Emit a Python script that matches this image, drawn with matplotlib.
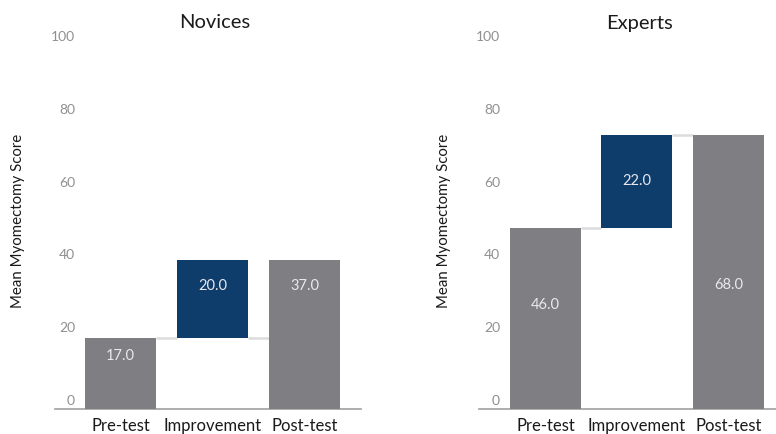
import matplotlib
matplotlib.use("Agg")
import matplotlib.pyplot as plt

plt.rcParams['font.family'] = ['Lato', 'DejaVu Sans']

categories = ["Pre-test", "Improvement", "Post-test"]
panels = ["Novices", "Experts"]
# bar tops
novice_tops = [17.0, 38.4, 38.4]
expert_tops = [47.2, 72.9, 72.9]
# printed values
novice_labels = ["17.0", "20.0", "37.0"]
expert_labels = ["46.0", "22.0", "68.0"]
yticks = [0, 20, 40, 60, 80, 100]

# layout (not data)
label_y = {"Novices": [12.2, 31.4, 31.4], "Experts": [26.2, 60.2, 31.7]}
connect_at = {"Novices": ["pre", "pre"], "Experts": ["pre", "post"]}

GRAY = "#7f7e83"
BLUE = "#0f3d6b"
BASE = -2.3

fig = plt.figure(figsize=(7.76, 4.34), dpi=100)
W, H = 776, 434
ax_specs = {
    "Novices": dict(rect=[55 / W, (H - 408.5) / H, (361 - 55) / W, (408.5 - 36) / H],
                    xlim=(-0.71, 2.61), width=0.77, pad=-14.4,
                    title_xy=(215 / W, 1 - 23 / H), ylab_x=18 / W),
    "Experts": dict(rect=[479 / W, (H - 408.5) / H, (776 - 479) / W, (408.5 - 36) / H],
                    xlim=(-0.727, 2.52), width=0.776, pad=-15.1,
                    title_xy=(640 / W, 1 - 24 / H), ylab_x=444 / W),
}

for name, tops, labels in [("Novices", novice_tops, novice_labels),
                           ("Experts", expert_tops, expert_labels)]:
    s = ax_specs[name]
    ax = fig.add_axes(s["rect"])
    x = list(range(len(categories)))
    pre, post = tops[0], tops[2]
    bottoms = [BASE, pre, BASE]
    heights = [pre - BASE, tops[1] - pre, post - BASE]
    colors = [GRAY, BLUE, GRAY]
    ax.bar(x, heights, bottom=bottoms, width=s["width"], color=colors,
           edgecolor="none", zorder=3)
    w = s["width"]
    lv = {"pre": pre, "post": post}
    ax.hlines(lv[connect_at[name][0]], 0 + w / 2, 1 - w / 2, color="#dcdcdc", lw=1.8, zorder=2)
    ax.hlines(lv[connect_at[name][1]], 1 + w / 2, 2 - w / 2, color="#dcdcdc", lw=1.8, zorder=2)
    for xi, ly, t in zip(x, label_y[name], labels):
        ax.text(xi, ly, t, ha="center", va="center", color="#e8e8ee",
                fontsize=10.5, zorder=4)
    ax.set_xlim(*s["xlim"])
    ax.set_ylim(BASE, 100)
    ax.set_yticks(yticks)
    ax.set_yticklabels([str(v) for v in yticks])
    ax.set_xticks(x)
    ax.set_xticklabels(categories)
    ax.tick_params(axis="y", length=0, pad=s["pad"], labelsize=10, labelcolor="#909090")
    for lab in ax.get_yticklabels():
        lab.set_horizontalalignment("right")
    ax.tick_params(axis="x", length=0, pad=6.5, labelsize=12, labelcolor="#1a1a1a")
    for sp in ["top", "right", "left"]:
        ax.spines[sp].set_visible(False)
    ax.spines["bottom"].set_color("#a0a0a0")
    ax.spines["bottom"].set_linewidth(1.2)
    ax.patch.set_alpha(0)
    fig.text(s["title_xy"][0], s["title_xy"][1], name, ha="center", va="center",
             fontsize=14.5, color="#1a1a1a")
    fig.text(s["ylab_x"], 1 - 221 / H, "Mean Myomectomy Score", rotation=90,
             ha="center", va="center", fontsize=10.8, color="#1a1a1a")

fig.savefig("out.png", dpi=100)
